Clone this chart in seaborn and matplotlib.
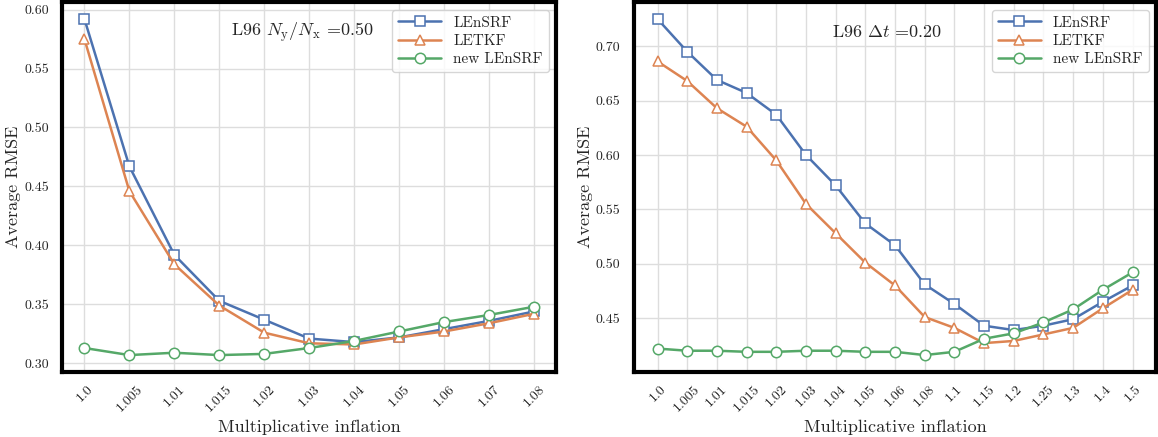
import numpy as np
import pandas as pd
import matplotlib
matplotlib.use('Agg')
import matplotlib.pyplot as plt
from matplotlib.ticker import FormatStrFormatter
import seaborn as sns

sns.set_theme(style='whitegrid', palette='deep')
plt.rcParams['font.family'] = ['serif']
plt.rcParams['font.serif'] = ['cmr10', 'DejaVu Serif']
plt.rcParams['mathtext.fontset'] = 'cm'
plt.rcParams['axes.unicode_minus'] = False
plt.rcParams['axes.formatter.use_mathtext'] = True
plt.rcParams['grid.color'] = '#dddddd'

# left panel: observation ratio 0.50
infl_left = ['1.0', '1.005', '1.01', '1.015', '1.02', '1.03', '1.04', '1.05', '1.06', '1.07', '1.08']
lensrf_left = [0.592, 0.467, 0.392, 0.353, 0.337, 0.321, 0.318, 0.322, 0.329, 0.336, 0.344]
letkf_left = [0.575, 0.446, 0.384, 0.349, 0.326, 0.317, 0.316, 0.322, 0.327, 0.334, 0.342]
new_left = [0.313, 0.307, 0.309, 0.307, 0.308, 0.313, 0.319, 0.327, 0.335, 0.341, 0.348]

# right panel: dt = 0.20
infl_right = ['1.0', '1.005', '1.01', '1.015', '1.02', '1.03', '1.04', '1.05', '1.06', '1.08',
              '1.1', '1.15', '1.2', '1.25', '1.3', '1.4', '1.5']
lensrf_right = [0.725, 0.695, 0.669, 0.657, 0.637, 0.600, 0.572, 0.537, 0.517, 0.481,
                0.463, 0.443, 0.439, 0.443, 0.449, 0.465, 0.480]
letkf_right = [0.686, 0.668, 0.643, 0.626, 0.595, 0.555, 0.528, 0.501, 0.480, 0.451,
               0.441, 0.427, 0.429, 0.435, 0.441, 0.459, 0.476]
new_right = [0.422, 0.420, 0.420, 0.419, 0.419, 0.420, 0.420, 0.419, 0.419, 0.416,
             0.419, 0.431, 0.436, 0.446, 0.458, 0.476, 0.492]

methods = ['LEnSRF', 'LETKF', 'new LEnSRF']
markers = ['s', '^', 'o']
colors = sns.color_palette('deep')[:3]

fig, axes = plt.subplots(1, 2, figsize=(11.58, 4.37), dpi=100,
                         gridspec_kw={'width_ratios': [495, 523]})
fig.subplots_adjust(left=0.0535, right=0.9985, bottom=0.149, top=0.995, wspace=0.152)

panels = [
    (axes[0], infl_left, [lensrf_left, letkf_left, new_left], r'L96 $N_\mathrm{y}/N_\mathrm{x}$ =0.50',
     np.arange(0.30, 0.601, 0.05)),
    (axes[1], infl_right, [lensrf_right, letkf_right, new_right], r'L96 $\Delta t$ =0.20',
     np.arange(0.45, 0.701, 0.05)),
]

for ax, infl, series, label, yt in panels:
    for name, vals, mk, c in zip(methods, series, markers, colors):
        sns.lineplot(x=infl, y=vals, ax=ax, color=c, marker=mk, markersize=7.5,
                     markerfacecolor='white', markeredgecolor=c, markeredgewidth=1.1,
                     linewidth=1.8, label=name, sort=False)
    ax.set_yticks(yt)
    ax.yaxis.set_major_formatter(FormatStrFormatter('%.2f'))
    ax.tick_params(axis='x', rotation=45, labelsize=10, pad=2)
    ax.tick_params(axis='y', labelsize=10)
    for lab in ax.get_xticklabels():
        lab.set_ha('center')
    ax.set_xlabel('Multiplicative inflation', fontsize=13)
    ax.set_ylabel('Average RMSE', fontsize=13, labelpad=2)
    ax.text(0.485, 0.92, label, transform=ax.transAxes, ha='center', va='center', fontsize=13)
    ax.legend(loc='upper right', fontsize=11, handlelength=2.8, borderpad=0.4, labelspacing=0.3)
    for sp in ax.spines.values():
        sp.set_color('black')
        sp.set_linewidth(3)

plt.savefig('out.png', dpi=100)
